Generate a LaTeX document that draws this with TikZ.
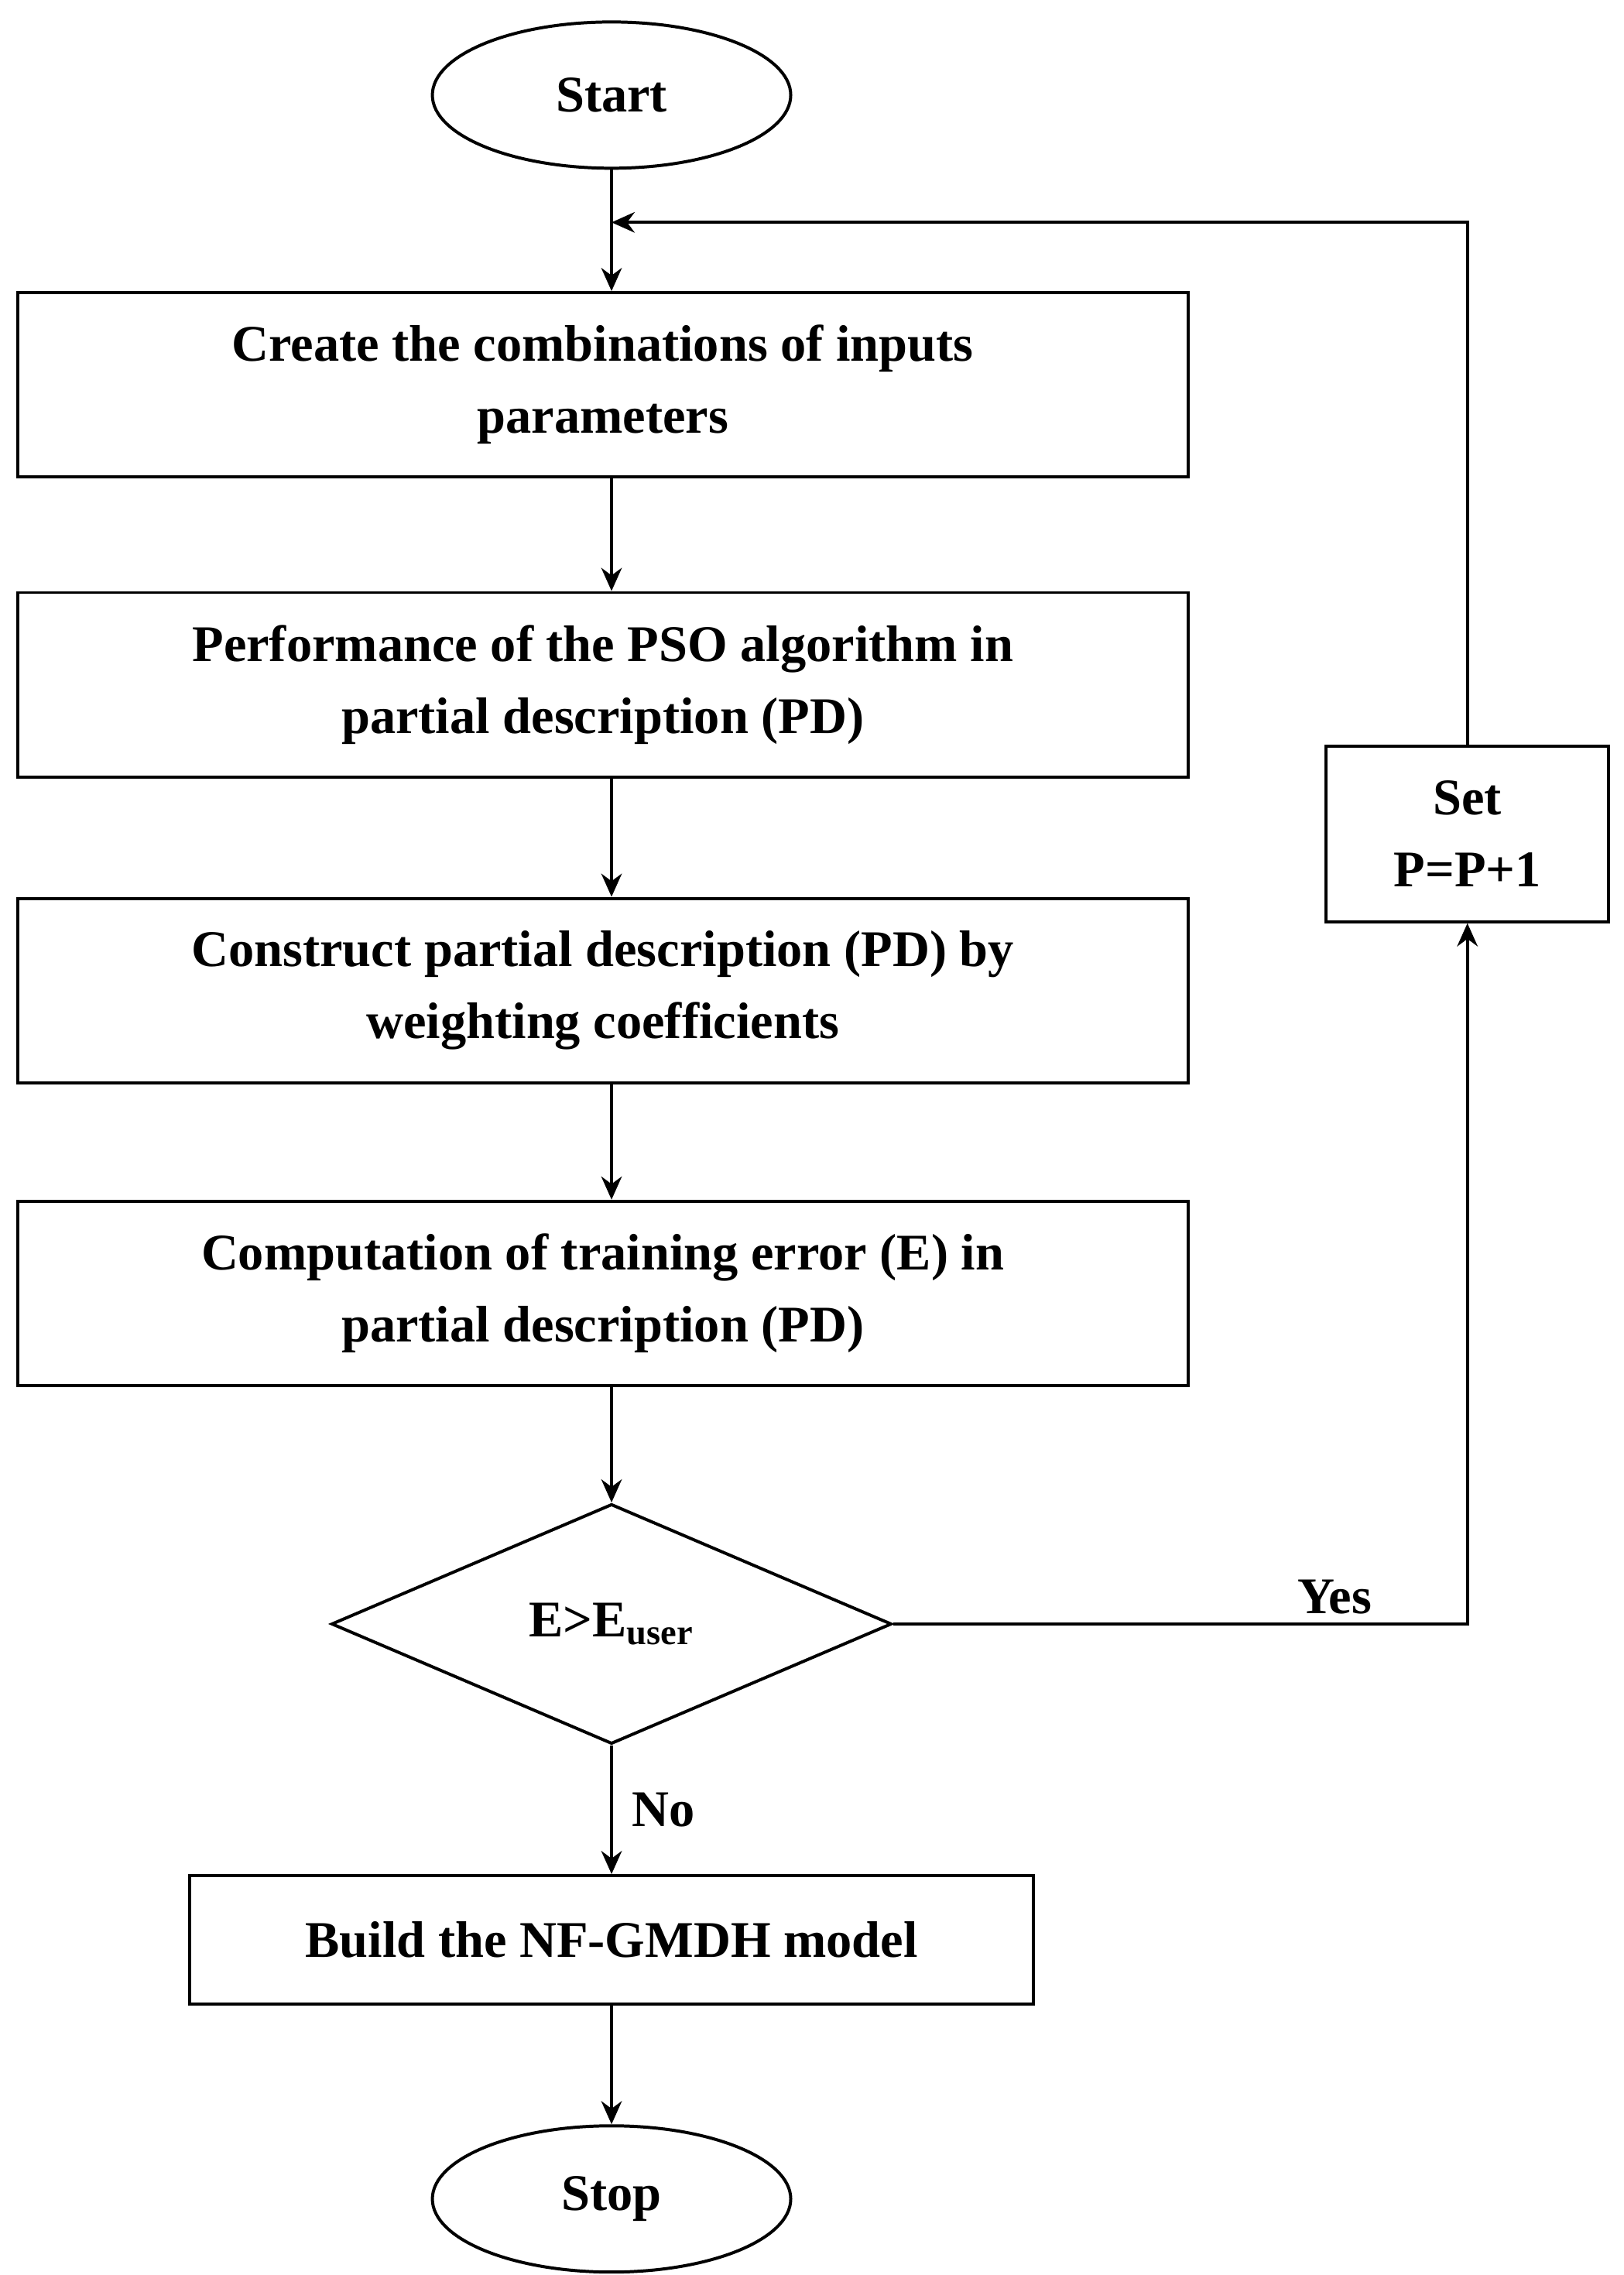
\documentclass[tikz,border=0pt]{standalone}
\usepackage{fontspec}
\setmainfont{Liberation Serif}
\usetikzlibrary{shapes.geometric,arrows.meta}
\begin{document}
\begin{tikzpicture}[x=0.02cm,y=-0.02cm,
  every node/.style={font=\fontsize{20}{28}\selectfont\bfseries},
  box/.style={draw,line width=1.2pt,align=center,inner sep=0pt},
  ov/.style={draw,ellipse,line width=1.2pt,minimum width=4.9cm,minimum height=2cm},
  arr/.style={line width=1.2pt,-{Stealth[length=9pt,width=8pt]}}]
\useasboundingbox (0,0) rectangle (1110,1555);
\node[ov] (start) at (418,65) {Start};
\node[box,minimum width=16cm,minimum height=2.52cm] (b1) at (412,263) {Create the combinations of inputs\\parameters};
\node[box,minimum width=16cm,minimum height=2.52cm] (b2) at (412,468) {Performance of the PSO algorithm in\\partial description (PD)};
\node[box,minimum width=16cm,minimum height=2.52cm] (b3) at (412,677) {Construct partial description (PD) by\\weighting coefficients};
\node[box,minimum width=16cm,minimum height=2.52cm] (b4) at (412,884) {Computation of training error (E) in\\partial description (PD)};
\node[draw,diamond,line width=1.2pt,aspect=2.34,minimum width=7.66cm,minimum height=3.28cm,inner sep=0pt] (d) at (418,1110) {E>E\textsubscript{user}};
\node[box,minimum width=11.54cm,minimum height=1.76cm] (b5) at (418,1326) {Build the NF-GMDH model};
\node[ov] (stop) at (418,1503) {Stop};
\node[box,minimum width=3.86cm,minimum height=2.4cm] (set) at (1003,570) {Set\\P=P+1};
\coordinate (top) at (418,152);
\coordinate (tr) at (1003,152);
\coordinate (br) at (1003,1110);
\draw[arr] (start) -- (b1.north -| start);
\draw[arr] (b1.south -| start) -- (b2.north -| start);
\draw[arr] (b2.south -| start) -- (b3.north -| start);
\draw[arr] (b3.south -| start) -- (b4.north -| start);
\draw[arr] (b4.south -| start) -- (d.north);
\draw[arr] (d.south) -- node[right,xshift=4pt] {No} (b5.north);
\draw[arr] (b5) -- (stop);
\draw[arr] (d.east) -- node[above,xshift=60pt] {Yes} (br) -- (set.south);
\draw[arr] (set.north) -- (tr) -- (top);
\end{tikzpicture}
\end{document}
